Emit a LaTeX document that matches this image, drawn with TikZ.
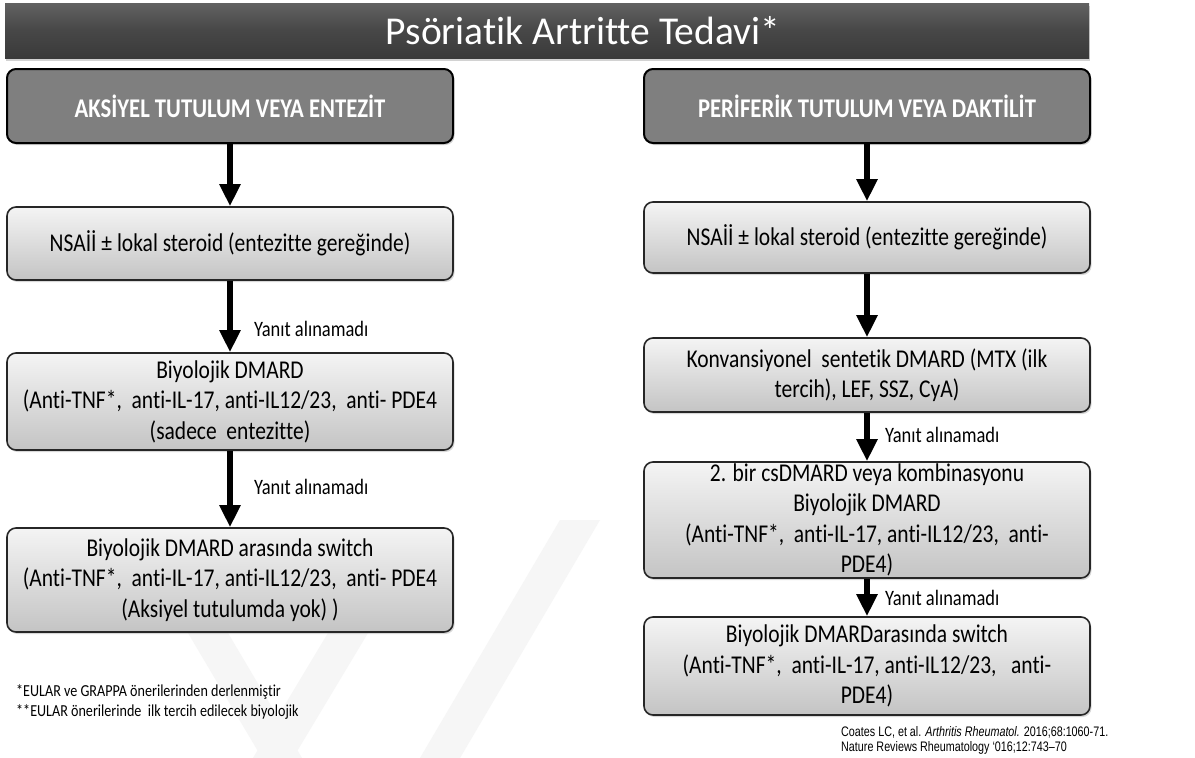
\documentclass[tikz,border=0pt]{standalone}
\usepackage{fontspec}
\setmainfont{Carlito}[FakeStretch=0.84,Ligatures=NoCommon]
\newfontfamily\titlefont{Carlito}[Ligatures=NoCommon]
\newfontfamily\reffont{Liberation Sans}[FakeStretch=0.78]
\usetikzlibrary{arrows.meta,shadows}

\definecolor{barTop}{HTML}{626262}
\definecolor{barMid}{HTML}{474747}
\definecolor{barBot}{HTML}{3A3A3A}
\definecolor{headGray}{HTML}{7F7F7F}
\definecolor{boxTop}{HTML}{F4F4F4}
\definecolor{boxBot}{HTML}{C4C4C4}
\definecolor{markGray}{HTML}{F6F6F6}

\tikzstyle{titlebar}=[draw=none,top color=barTop,bottom color=barBot,middle color=barMid,minimum width=1084pt,minimum height=55pt,inner sep=0pt,drop shadow={shadow xshift=1pt,shadow yshift=-2.5pt,opacity=.35}]
\tikzstyle{titletext}=[text=white,inner sep=0pt,font=\titlefont\fontsize{39.5}{42}\selectfont]
\tikzset{header/.style={
  rounded corners=9pt,draw=black,line width=2pt,fill=headGray,text=white,
  minimum width=446pt,minimum height=74pt,inner sep=0pt,
  font=\bfseries\fontsize{27}{30}\selectfont,
  drop shadow={shadow xshift=1.5pt,shadow yshift=-2pt,opacity=.35}
}}
\tikzset{stage/.style={
  rounded corners=9pt,draw=black!85,line width=1.6pt,
  top color=boxTop,bottom color=boxBot,
  minimum width=446pt,inner sep=0pt,align=center,
  font=\fontsize{25.6}{30.5}\selectfont,
  drop shadow={shadow xshift=1.5pt,shadow yshift=-2pt,opacity=.3}
}}
\tikzset{flow/.style={line width=6pt,-{Triangle[length=22pt,width=20pt]}}}
\tikzset{reply/.style={anchor=west,inner sep=0pt,font=\fontsize{22}{24}\selectfont}}
\tikzset{watermark/.style={fill=markGray,draw=none}}

\begin{document}
\begin{tikzpicture}[x=1pt,y=-1pt]
\useasboundingbox (0,0) rectangle (1195,758);
\fill[white] (0,0) rectangle (1195,758);

% watermark
\fill[watermark] (188,633) -- (228,633) -- (302,758) -- (262,758) -- cycle;
\fill[watermark] (328,633) -- (368,633) -- (293,758) -- (253,758) -- cycle;
\fill[watermark] (560,520) -- (600,520) -- (460,758) -- (420,758) -- cycle;

\node[titlebar] (bar) at (547,30.5) {};
\node[titletext] (title) at (583,31) {Psöriatik Artritte Tedavi*};

\node[header] (hdL) at (230,106) {AKSİYEL TUTULUM VEYA ENTEZİT};
\node[header] (hdR) at (867,106) {PERİFERİK TUTULUM VEYA DAKTİLİT};

\node[stage,minimum height=73pt] (nsL) at (230,243.5) {NSAİİ ± lokal steroid (entezitte gereğinde)};
\node[stage,minimum height=97pt] (bioL) at (230,401.5) {Biyolojik DMARD\\(Anti-TNF*,~ anti-IL-17, anti-IL12/23,~ anti- PDE4\\(sadece~ entezitte)};
\node[stage,minimum height=104pt] (swL) at (230,580) {Biyolojik DMARD arasında switch\\(Anti-TNF*,~ anti-IL-17, anti-IL12/23,~ anti- PDE4\\(Aksiyel tutulumda yok) )};

\node[stage,minimum height=71pt] (nsR) at (867,237.5) {NSAİİ ± lokal steroid (entezitte gereğinde)};
\node[stage,minimum height=74pt] (csR) at (867,375) {Konvansiyonel~ sentetik DMARD (MTX (ilk\\tercih), LEF, SSZ, CyA)};
\node[stage,minimum height=116pt] (cs2R) at (867,520) {2. bir csDMARD veya kombinasyonu\\Biyolojik DMARD\\(Anti-TNF*,~ anti-IL-17, anti-IL12/23,~ anti-\\PDE4)};
\node[stage,minimum height=98pt] (swR) at (867,666) {Biyolojik DMARDarasında switch\\(Anti-TNF*,~ anti-IL-17, anti-IL12/23,~~ anti-\\PDE4)};

\draw[flow] (hdL) -- (nsL);
\draw[flow] (nsL) -- node[reply,pos=0.68,xshift=21pt] {Yanıt alınamadı} (bioL);
\draw[flow] (bioL) -- node[reply,pos=0.47,xshift=21pt] {Yanıt alınamadı} (swL);

\draw[flow] (hdR) -- (nsR);
\draw[flow] (nsR) -- (csR);
\draw[flow] (csR) -- node[reply,pos=0.46,xshift=15pt] {Yanıt alınamadı} (cs2R);
\draw[flow] (cs2R) -- node[reply,pos=0.51,xshift=15pt] {Yanıt alınamadı} (swR);

\node[anchor=west,inner sep=0pt,align=left,font=\fontsize{16.8}{20}\selectfont] (notes) at (16,702) {*EULAR ve GRAPPA önerilerinden derlenmiştir\\**EULAR önerilerinde~ ilk tercih edilecek biyolojik};
\node[anchor=west,inner sep=0pt,align=left,font=\reffont\fontsize{13.8}{15}\selectfont] (refs) at (841,740.5) {Coates LC, et al. \textit{Arthritis Rheumatol.} 2016;68:1060-71.\\Nature Reviews Rheumatology ‘016;12:743–70};

\end{tikzpicture}
\end{document}
